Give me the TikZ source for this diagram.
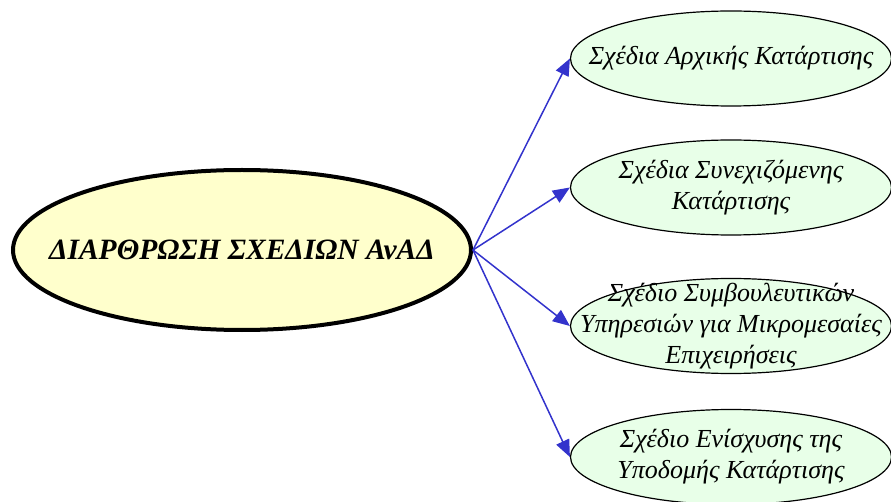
\documentclass[tikz,border=0pt]{standalone}
\usepackage{fontspec}
\setmainfont{Liberation Serif}
\usetikzlibrary{shapes.geometric,arrows.meta,positioning}

\definecolor{rootfill}{HTML}{FFFFCC}
\definecolor{leaffill}{HTML}{E8FFE8}
\definecolor{linkblue}{HTML}{3333CC}

\begin{document}
\begin{tikzpicture}[
    x=1pt, y=1pt,
    rootbox/.style={ellipse, draw=black, line width=4pt, fill=rootfill,
                    minimum width=458pt, minimum height=160pt, inner sep=0pt},
    roottext/.style={font=\bfseries\itshape\fontsize{29.5}{34}\selectfont, inner sep=0pt},
    leafbox/.style={ellipse, draw=black, line width=1.2pt, fill=leaffill,
                    minimum width=321pt, minimum height=95pt, inner sep=0pt},
    leaftext/.style={font=\itshape\fontsize{26}{31}\selectfont, align=center, inner sep=0pt},
    arrow/.style={line width=1.5pt, color=linkblue, -{Triangle[length=17pt,width=14pt]}}
]
\useasboundingbox (0,0) rectangle (891,501);

% Root
\node[rootbox, label={[roottext]center:ΔΙΑΡΘΡΩΣΗ ΣΧΕΔΙΩΝ ΑνΑΔ}] (root) at (242,251) {};

% Plans
\node[leafbox, label={[leaftext]center:Σχέδια Αρχικής Κατάρτισης}] (initial) at (731,442.5) {};
\node[leafbox, label={[leaftext]center:Σχέδια Συνεχιζόμενης\\Κατάρτισης}] (continuing) at (731,313.5) {};
\node[leafbox, label={[leaftext]center:Σχέδιο Συμβουλευτικών\\Υπηρεσιών για Μικρομεσαίες\\Επιχειρήσεις}] (advisory) at (731,175) {};
\node[leafbox, label={[leaftext]center:Σχέδιο Ενίσχυσης της\\Υποδομής Κατάρτισης}] (infra) at (731,44) {};

% Links
\draw[arrow] (root.east) -- (initial.west);
\draw[arrow] (root.east) -- (continuing.west);
\draw[arrow] (root.east) -- (advisory.west);
\draw[arrow] (root.east) -- (infra.west);

\end{tikzpicture}
\end{document}
